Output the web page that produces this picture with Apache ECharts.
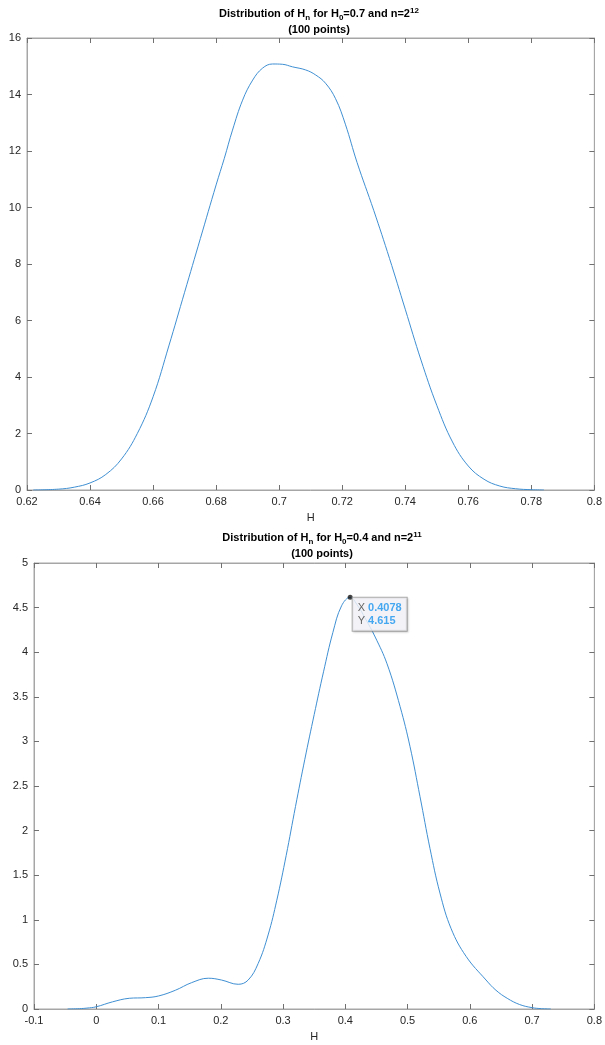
<!DOCTYPE html>
<html>
<head>
<meta charset="utf-8">
<script src="https://cdn.jsdelivr.net/npm/echarts@6/dist/echarts.min.js"></script>
<style>
html,body{margin:0;padding:0;background:#fff;}
#c{width:605px;height:1045px;}
</style>
</head>
<body>
<div id="c"></div>
<script>
// ---- Top panel data (H0 = 0.7, n = 2^12) ----
var topX = [0.622, 0.63, 0.635, 0.64, 0.645, 0.65, 0.655, 0.66, 0.665, 0.67, 0.675, 0.68, 0.6826, 0.6852, 0.6884, 0.6916, 0.6947, 0.6979, 0.701, 0.7042, 0.7084, 0.7116, 0.7147, 0.7179, 0.721, 0.7247, 0.73, 0.735, 0.74, 0.745, 0.75, 0.755, 0.76, 0.765, 0.77, 0.775, 0.78, 0.784];
var topY = [0, 0.03, 0.1, 0.25, 0.55, 1.1, 2.0, 3.3, 5.1, 7.0, 8.9, 10.8, 11.74, 12.74, 13.8, 14.51, 14.93, 15.08, 15.07, 14.98, 14.87, 14.69, 14.4, 13.85, 12.95, 11.6, 9.9, 8.2, 6.4, 4.6, 3.0, 1.7, 0.85, 0.38, 0.14, 0.045, 0.01, 0];
var topXTicks = [0.62, 0.64, 0.66, 0.68, 0.7, 0.72, 0.74, 0.76, 0.78, 0.8];
var topYTicks = [0, 2, 4, 6, 8, 10, 12, 14, 16];

// ---- Bottom panel data (H0 = 0.4, n = 2^11) ----
var botX = [-0.046, -0.04, -0.027, -0.015, 0.0, 0.026, 0.053, 0.079, 0.1, 0.127, 0.153, 0.18, 0.201, 0.228, 0.244, 0.26, 0.276, 0.29, 0.305, 0.32, 0.335, 0.35, 0.365, 0.38, 0.394, 0.4078, 0.42, 0.432, 0.448, 0.467, 0.488, 0.504, 0.52, 0.536, 0.552, 0.57, 0.594, 0.626, 0.642, 0.66, 0.68, 0.7, 0.715, 0.73];
var botY = [0, 0.001, 0.004, 0.01, 0.025, 0.08, 0.12, 0.127, 0.146, 0.21, 0.295, 0.345, 0.325, 0.277, 0.325, 0.51, 0.83, 1.22, 1.72, 2.27, 2.8, 3.3, 3.78, 4.22, 4.52, 4.615, 4.52, 4.38, 4.17, 3.87, 3.39, 2.94, 2.38, 1.8, 1.3, 0.9, 0.59, 0.325, 0.21, 0.12, 0.05, 0.015, 0.004, 0];
var botXTicks = [-0.1, 0, 0.1, 0.2, 0.3, 0.4, 0.5, 0.6, 0.7, 0.8];
var botYTicks = [0, 0.5, 1, 1.5, 2, 2.5, 3, 3.5, 4, 4.5, 5];

// datatip
var tipX = 0.4078, tipY = 4.615;

var FONT = '"Liberation Sans", Arial, Helvetica, sans-serif';
var AX = '#a6a6a6';
var TXT = '#262626';
var LINE = '#3f8fd2';

function pairs(xs, ys) { return xs.map(function (x, i) { return [x, ys[i]]; }); }
function fmt(v) { return String(parseFloat(Number(v).toFixed(4))); }

function xAxes(ticks, gi) {
  var step = +(ticks[1] - ticks[0]).toFixed(6);
  var base = {
    type: 'value', gridIndex: gi, min: ticks[0], max: ticks[ticks.length - 1], interval: step,
    splitLine: { show: false },
    axisLine: { show: true, onZero: false, lineStyle: { color: AX, width: 1 } },
    axisTick: { show: true, inside: true, length: 5, lineStyle: { color: '#707070' } }
  };
  return [
    Object.assign({}, base, {
      position: 'bottom',
      axisLabel: { show: true, color: TXT, fontFamily: FONT, fontSize: 11, margin: 6, formatter: fmt, showMinLabel: true, showMaxLabel: true },
      name: 'H', nameLocation: 'middle', nameGap: 22,
      nameTextStyle: { color: TXT, fontFamily: FONT, fontSize: 11 }
    }),
    Object.assign({}, base, { position: 'top', axisLabel: { show: false } })
  ];
}
function yAxes(ticks, gi) {
  var step = +(ticks[1] - ticks[0]).toFixed(6);
  var base = {
    type: 'value', gridIndex: gi, min: ticks[0], max: ticks[ticks.length - 1], interval: step,
    splitLine: { show: false },
    axisLine: { show: true, onZero: false, lineStyle: { color: AX, width: 1 } },
    axisTick: { show: true, inside: true, length: 5, lineStyle: { color: '#707070' } }
  };
  return [
    Object.assign({}, base, {
      position: 'left',
      axisLabel: { show: true, color: TXT, fontFamily: FONT, fontSize: 11, margin: 6, formatter: fmt, showMinLabel: true, showMaxLabel: true }
    }),
    Object.assign({}, base, { position: 'right', axisLabel: { show: false } })
  ];
}

function titleRich() {
  return {
    t: { fontFamily: FONT, fontSize: 11, fontWeight: 'bold', color: '#000', lineHeight: 16 },
    sub: { fontFamily: FONT, fontSize: 8, fontWeight: 'bold', color: '#000', lineHeight: 16, padding: [7, 0, 0, 0] },
    sup: { fontFamily: FONT, fontSize: 8, fontWeight: 'bold', color: '#000', lineHeight: 16, padding: [0, 0, 7, 0] }
  };
}

var chart = echarts.init(document.getElementById('c'), null, { renderer: 'canvas' });
var xa = xAxes(topXTicks, 0).concat(xAxes(botXTicks, 1));
var ya = yAxes(topYTicks, 0).concat(yAxes(botYTicks, 1));

chart.setOption({
  animation: false,
  backgroundColor: '#fff',
  title: [
    {
      left: 314, top: 1, textAlign: 'center',
      text: '{t|Distribution of H}{sub|n}{t| for H}{sub|0}{t|=0.7 and n=2}{sup|12}\n{t|(100 points)}',
      textStyle: { rich: titleRich() }
    },
    {
      left: 317, top: 525, textAlign: 'center',
      text: '{t|Distribution of H}{sub|n}{t| for H}{sub|0}{t|=0.4 and n=2}{sup|11}\n{t|(100 points)}',
      textStyle: { rich: titleRich() }
    }
  ],
  grid: [
    { left: 27, top: 38, right: 8, height: 452, show: true, borderColor: AX, borderWidth: 1, backgroundColor: '#fff' },
    { left: 34, top: 563, right: 6, height: 446, show: true, borderColor: AX, borderWidth: 1, backgroundColor: '#fff' }
  ],
  xAxis: xa,
  yAxis: ya,
  series: [
    {
      type: 'line', xAxisIndex: 0, yAxisIndex: 0, data: pairs(topX, topY),
      smooth: 0.4, showSymbol: false, lineStyle: { color: LINE, width: 1 }
    },
    {
      type: 'line', xAxisIndex: 2, yAxisIndex: 2, data: pairs(botX, botY),
      smooth: 0.4, showSymbol: false, lineStyle: { color: LINE, width: 1 }
    },
    {
      type: 'scatter', xAxisIndex: 2, yAxisIndex: 2, data: [[tipX, tipY]], z: 10, zlevel: 1,
      symbolSize: 5, itemStyle: { color: '#111' },
      label: {
        show: true, position: [5, 3],
        formatter: function () { return '{k|X }{v|' + fmt(tipX) + '}\n{k|Y }{v|' + fmt(tipY) + '}'; },
        backgroundColor: '#f8f8fc', borderColor: '#9a9a9a', borderWidth: 1,
        padding: [4, 5, 3, 5],
        shadowColor: 'rgba(0,0,0,0.15)', shadowBlur: 2, shadowOffsetX: 1, shadowOffsetY: 1,
        rich: {
          k: { fontFamily: FONT, fontSize: 11, color: '#404040', lineHeight: 13 },
          v: { fontFamily: FONT, fontSize: 11, color: '#1a94ef', fontWeight: 'bold', lineHeight: 13 }
        }
      }
    }
  ]
});
</script>
</body>
</html>
